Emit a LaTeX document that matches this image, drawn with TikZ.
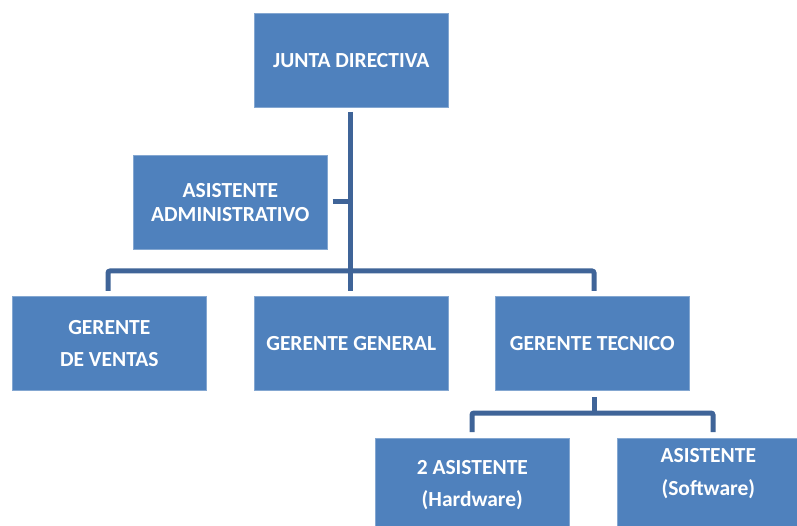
\documentclass[tikz,border=0pt]{standalone}
\usepackage{fontspec}
\setmainfont{Carlito}
\definecolor{boxfill}{HTML}{4F81BD}
\definecolor{linec}{HTML}{3F6498}
\begin{document}
\begin{tikzpicture}[x=1pt,y=-1pt,
  orgbox/.style={fill=boxfill,draw=boxfill!70!white,line width=0.6pt,minimum width=194pt,minimum height=94pt,
    text=white,font=\fontsize{21.5}{24}\selectfont\bfseries,align=center,inner sep=0pt,anchor=north west},
  conn/.style={draw=linec,line width=5pt,rounded corners=2pt}]
\useasboundingbox[fill=white] (0,0) rectangle (797,526);
\node[orgbox] (jd) at (254,13) {JUNTA DIRECTIVA};
\node[orgbox] (aa) at (133,155) {ASISTENTE\\ADMINISTRATIVO};
\node[orgbox] (gv) at (12,296) {GERENTE\\[8pt]DE VENTAS};
\node[orgbox] (gg) at (254,296) {GERENTE GENERAL};
\node[orgbox] (gt) at (495,296) {GERENTE TECNICO};
\node[orgbox] (ah) at (375,438) {2 ASISTENTE\\[8pt](Hardware)};
\node[orgbox,minimum width=182pt] (as) at (617,438) {\raisebox{26pt}{\shortstack{ASISTENTE\\[14pt](Software)}}};
\coordinate (top) at (350,112);
\coordinate (bot) at (350,291);
\draw[conn] (top) -- (bot);
\draw[conn] (aa.east |- 0,202) ++(5,0) -- (350,202);
\draw[conn] (108,291) |- (594,271) -- (594,291);
\coordinate (tl) at (594,397);
\draw[conn] (tl) -- (594,413);
\draw[conn] (472,432) |- (713,413) -- (713,432);
\end{tikzpicture}
\end{document}
